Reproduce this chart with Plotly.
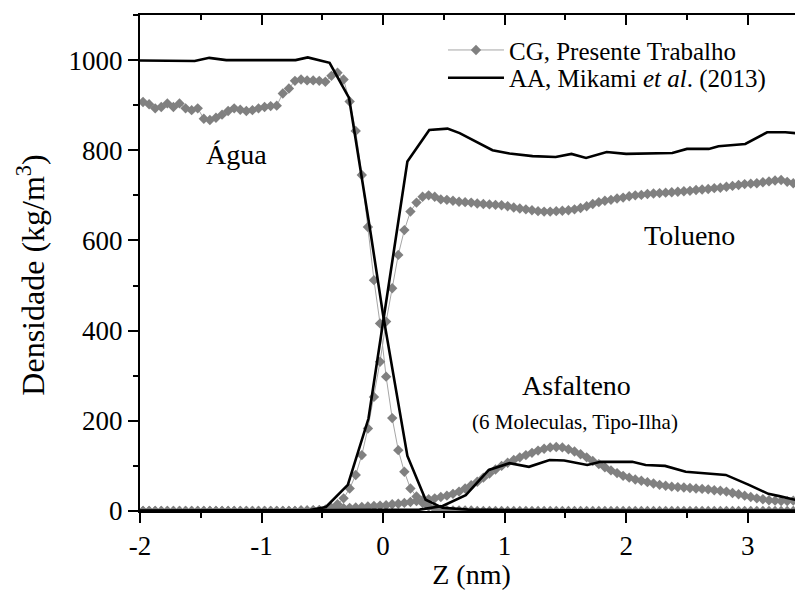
import numpy as np
import plotly.graph_objects as go

# ---------------- data ----------------
# CG (coarse-grained) profiles, bin centres every 0.05 nm starting at -1.975 nm
cg_z_start = -1.975
cg_z_step = 0.05
rho_cg_water = [
    907, 902, 893, 896, 904, 896, 904, 893, 889, 893,
    870, 867, 872, 879, 887, 893, 890, 887, 889, 893,
    896, 898, 899, 926, 937, 954, 957, 955, 955, 954,
    952, 965, 972, 957, 908, 843, 745, 630, 512, 416,
    298, 206, 135, 87, 50, 32, 18, 10, 5, 3,
    2, 1, 1, 1, 1, 0, 0, 0, 0, 0,
    0, 0, 0, 0, 0, 0, 0, 0, 0, 0,
    0, 0, 0, 0, 0, 0, 0, 0, 0, 0,
    0, 0, 0, 0, 0, 0, 0, 0, 0, 0,
    0, 0, 0, 0, 0, 0, 0, 0, 0, 0,
    0, 0, 0, 0, 0, 0, 0, 0, 0, 0,
]
rho_cg_toluene = [
    0, 0, 0, 0, 0, 0, 0, 0, 0, 0,
    0, 0, 0, 0, 0, 0, 0, 0, 0, 0,
    0, 0, 0, 0, 0, 0, 1, 1, 1, 2,
    3, 7, 15, 28, 50, 80, 124, 183, 253, 331,
    420, 494, 568, 623, 664, 684, 697, 700, 697, 691,
    690, 688, 686, 685, 684, 682, 681, 680, 679, 678,
    676, 673, 671, 669, 667, 665, 664, 664, 665, 666,
    667, 669, 672, 676, 681, 685, 688, 690, 693, 695,
    698, 700, 701, 703, 704, 705, 706, 707, 708, 709,
    710, 712, 713, 714, 716, 717, 719, 721, 723, 725,
    726, 727, 729, 731, 733, 734, 730, 727, 723, 720,
]
rho_cg_asphaltene = [
    0, 0, 0, 0, 0, 0, 0, 0, 0, 0,
    0, 0, 0, 0, 0, 0, 0, 0, 0, 0,
    0, 0, 0, 0, 0, 0, 1, 1, 2, 2,
    3, 4, 5, 6, 7, 8, 9, 10, 11, 12,
    13, 15, 16, 18, 20, 22, 24, 26, 28, 31,
    34, 38, 43, 50, 57, 65, 74, 83, 92, 100,
    107, 113, 119, 124, 129, 134, 138, 141, 142, 141,
    137, 132, 126, 119, 111, 104, 97, 90, 84, 78,
    74, 70, 67, 64, 61, 58, 56, 54, 53, 52,
    51, 50, 49, 48, 46, 45, 43, 40, 37, 34,
    31, 28, 26, 24, 23, 22, 22, 23, 25, 26,
]
z_cg = np.round(cg_z_start + cg_z_step * np.arange(len(rho_cg_water)), 3)

# AA (atomistic, Mikami et al. 2013) profiles
z_aa_water = [-2.0, -1.75, -1.55, -1.43, -1.29, -0.72, -0.62, -0.44, -0.36, -0.28,
              -0.1, 0.0, 0.2, 0.35, 0.49, 0.7, 1.0, 1.5, 2.0, 2.5, 3.0, 3.47]
rho_aa_water = [999, 998, 998, 1005, 1000, 1000, 1006, 994, 956, 916,
                612, 435, 122, 25, 7, 3, 2, 1, 1, 1, 1, 1]

z_aa_toluene = [-2.0, -1.0, -0.6, -0.47, -0.29, -0.12, 0.2, 0.38, 0.53, 0.63,
                0.76, 0.9, 1.04, 1.23, 1.42, 1.55, 1.67, 1.84, 2.0, 2.38,
                2.5, 2.68, 2.76, 2.98, 3.16, 3.31, 3.47]
rho_aa_toluene = [1, 1, 2, 9, 58, 205, 775, 845, 848, 838,
                  819, 800, 793, 787, 785, 792, 783, 796, 792, 794,
                  803, 803, 809, 814, 840, 840, 836]

z_aa_asphaltene = [-2.0, -0.5, 0.0, 0.3, 0.49, 0.68, 0.87, 1.04, 1.2, 1.37,
                   1.49, 1.68, 1.79, 2.05, 2.16, 2.32, 2.49, 2.71, 2.82, 3.01,
                   3.17, 3.26, 3.47]
rho_aa_asphaltene = [0, 1, 2, 3, 11, 35, 91, 106, 98, 113,
                     112, 102, 109, 109, 102, 100, 87, 82, 80, 58,
                     38, 33, 20]

x_tickvals = [-2, -1, 0, 1, 2, 3]
x_ticktext = ["-2", "-1", "0", "1", "2", "3"]
y_tickvals = [0, 200, 400, 600, 800, 1000]

legend_cg = "CG, Presente Trabalho"
legend_aa = "AA, Mikami <i>et al</i>. (2013)"
y_title = "Densidade (kg/m<sup>3</sup>)"
x_title = "Z (nm)"

# ---------------- figure ----------------
FONT = "Liberation Serif"
fig = go.Figure()

cg_style = dict(mode="lines+markers",
                line=dict(color="#a6a6a6", width=1),
                marker=dict(symbol="diamond", size=8, color="#808080",
                            line=dict(width=0)))
for i, rho in enumerate([rho_cg_water, rho_cg_toluene, rho_cg_asphaltene]):
    fig.add_trace(go.Scatter(x=z_cg, y=rho, name=legend_cg, legend="legend",
                             showlegend=(i == 0), **cg_style))

aa_style = dict(mode="lines", line=dict(color="black", width=2.6))
for i, (zz, rr) in enumerate([(z_aa_water, rho_aa_water),
                              (z_aa_toluene, rho_aa_toluene),
                              (z_aa_asphaltene, rho_aa_asphaltene)]):
    fig.add_trace(go.Scatter(x=zz, y=rr, name=legend_aa, legend="legend2",
                             showlegend=(i == 0), **aa_style))

# helper trace so the top (mirror) axis is drawn
fig.add_trace(go.Scatter(x=[x_tickvals[0]], y=[None], xaxis="x2",
                         mode="lines", showlegend=False, hoverinfo="skip"))

xr = [-2, 3.455]
leg_common = dict(x=0.457, xanchor="left", yanchor="middle",
                  bgcolor="rgba(0,0,0,0)", font=dict(family=FONT, size=25),
                  itemwidth=56)
# the page adds an 8 px body margin, so the figure is 8 px smaller each way
fig.update_layout(
    width=795, height=582,
    margin=dict(l=132, r=0, t=7, b=79),
    plot_bgcolor="white", paper_bgcolor="white",
    font=dict(family=FONT, size=27, color="black"),
    legend=dict(y=0.929, **leg_common),
    legend2=dict(y=0.873, **leg_common),
    xaxis=dict(range=xr, tickvals=x_tickvals, ticktext=x_ticktext,
               ticks="outside", ticklen=10, tickwidth=2, tickcolor="black",
               showline=True, linewidth=2, linecolor="black",
               showgrid=False, zeroline=False,
               minor=dict(dtick=0.5, tick0=0, ticks="outside", ticklen=5,
                          tickwidth=2, tickcolor="black", showgrid=False),
               tickfont=dict(family=FONT, size=27),
               title=dict(text=x_title, font=dict(family=FONT, size=28),
                          standoff=4)),
    xaxis2=dict(range=xr, overlaying="x", side="top", anchor="y",
                tickvals=x_tickvals, showticklabels=False,
                ticks="inside", ticklen=10, tickwidth=2, tickcolor="black",
                showline=True, linewidth=2, linecolor="black",
                showgrid=False, zeroline=False,
                minor=dict(dtick=0.5, tick0=0, ticks="inside", ticklen=5,
                           tickwidth=2, tickcolor="black", showgrid=False)),
    yaxis=dict(range=[0, 1100], tickvals=y_tickvals,
               ticks="outside", ticklen=10, tickwidth=2, tickcolor="black",
               showline=True, linewidth=2, linecolor="black",
               showgrid=False, zeroline=False,
               minor=dict(dtick=100, tick0=0, ticks="outside", ticklen=5,
                          tickwidth=2, tickcolor="black", showgrid=False),
               tickfont=dict(family=FONT, size=27)),
)

# y-axis title placed as a rotated annotation (closer to the edge than the
# automatic title position)
fig.add_annotation(text=y_title, xref="paper", yref="paper",
                   x=-0.164, y=0.475, xanchor="center", yanchor="middle",
                   textangle=-90, showarrow=False,
                   font=dict(family=FONT, size=32, color="black"))

annots = [
    ("Água", -1.21, 790, 28),
    ("Tolueno", 2.52, 612, 28),
    ("Asfalteno", 1.59, 279, 28),
    ("(6 Moleculas, Tipo-Ilha)", 1.58, 197, 21),
]
for txt, ax, ay, fs in annots:
    fig.add_annotation(x=ax, y=ay, text=txt, showarrow=False,
                       font=dict(family=FONT, size=fs, color="black"))

fig.write_html("out.html")
